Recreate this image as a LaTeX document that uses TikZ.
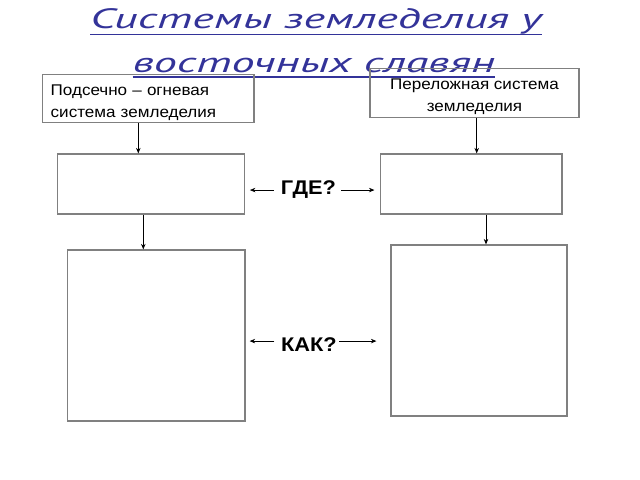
\documentclass[tikz,border=0pt]{standalone}
\usepackage{fontspec}
\setmainfont{Liberation Sans}[FakeStretch=1.1]
\newfontfamily\titlefont[FakeStretch=1.65]{PT Sans}
\usetikzlibrary{arrows.meta,positioning}
\definecolor{titleblue}{HTML}{333399}
\definecolor{boxgray}{HTML}{808080}
\newcommand\boxstrut{\rule{0pt}{19bp}}
\tikzset{
  title/.style={font=\titlefont\itshape\fontsize{28bp}{28bp}\selectfont, text=titleblue, inner sep=0pt, anchor=base},
  uline/.style={draw=titleblue, line width=1.3bp},
  box/.style={draw=boxgray, line width=1.2bp, inner sep=0pt, font=\fontsize{15.5bp}{21.7bp}\selectfont},
  ask/.style={font=\bfseries\fontsize{19.8bp}{19.8bp}\selectfont, inner sep=0pt, anchor=base},
  arr/.style={-{Stealth[length=5.5bp,width=4.5bp]}, line width=0.7bp}
}
\begin{document}
\begin{tikzpicture}[x=1bp,y=-1bp]
\useasboundingbox (0,0) rectangle (640,480);
\node[title] (title1) at (316,29) {Системы земледелия у};
\node[title] (title2) at (314,73) {восточных славян};
\draw[uline] ([yshift=-5.5bp]title1.base west) -- ([yshift=-5.5bp]title1.base east);
\draw[uline] ([yshift=-4bp]title2.base west) -- ([yshift=-4bp]title2.base east);

\node[box, minimum height=48bp, text width=195bp, inner xsep=8.35bp, align=left] (podsek) at (148.2,98.3) {\boxstrut Подсечно – огневая\\система земледелия};
\node[box, minimum width=209bp, minimum height=49bp, align=center] (perelog) at (474.5,92.8) {\boxstrut Переложная система\\земледелия};

\node[box, minimum width=187bp, minimum height=60bp] (gdeL) at (151.2,184) {};
\node[box, minimum width=181.7bp, minimum height=60bp] (gdeR) at (471.2,184) {};
\node[box, minimum width=177.7bp, minimum height=171bp] (kakL) at (156.2,335.5) {};
\node[box, minimum width=176bp, minimum height=171bp] (kakR) at (479,330.5) {};

\node[ask] (gde) at (308.4,195) {ГДЕ?};
\node[ask] (kak) at (309,351) {КАК?};

\coordinate (aL1) at ([xshift=-9.9bp]podsek.south);
\coordinate (aR1) at ([xshift=2.2bp]perelog.south);
\coordinate (aL2) at ([xshift=-7.9bp]gdeL.south);
\coordinate (aR2) at ([xshift=14.8bp]gdeR.south);
\draw[arr] (aL1) -- (aL1 |- gdeL.north);
\draw[arr] (aR1) -- (aR1 |- gdeR.north);
\draw[arr] (aL2) -- (aL2 |- kakL.north);
\draw[arr] (aR2) -- (aR2 |- kakR.north);

\draw[arr] ([xshift=-6.7bp]gde.west) -- ([xshift=4.6bp]gde.west -| gdeL.east);
\draw[arr] ([xshift=5bp]gde.east) -- ([xshift=-5.3bp]gde.east -| gdeR.west);
\draw[arr] ([xshift=-6.7bp,yshift=3bp]kak.west) -- ([xshift=4bp,yshift=3bp]kak.west -| kakL.east);
\draw[arr] ([xshift=2.3bp,yshift=3bp]kak.east) -- ([xshift=-14bp,yshift=3bp]kak.east -| kakR.west);
\end{tikzpicture}
\end{document}
